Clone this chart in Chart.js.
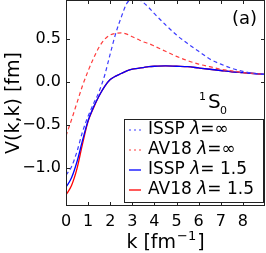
<!DOCTYPE html>
<html><head><meta charset="utf-8">
<script src="https://cdn.jsdelivr.net/npm/chart.js@4/dist/chart.umd.min.js"></script>
<style>html,body{margin:0;padding:0;background:#fff}#c{display:block}</style>
</head><body>
<canvas id="c" width="266" height="253"></canvas>
<script>
const kValues = [0,0.25,0.5,0.75,1,1.25,1.5,1.75,2,2.25,2.5,2.75,3,3.25,3.5,3.75,4,4.5,5,5.5,6,6.5,7,7.5,8,8.5,9];
const isspInf = [-1.09,-0.99,-0.81,-0.58,-0.40,-0.25,-0.11,0.08,0.33,0.57,0.76,0.92,0.975,0.97,0.93,0.87,0.80,0.67,0.55,0.45,0.36,0.27,0.21,0.16,0.125,0.10,0.09];
const av18Inf = [-0.63,-0.44,-0.24,-0.04,0.13,0.28,0.41,0.50,0.55,0.57,0.575,0.56,0.53,0.50,0.47,0.45,0.42,0.36,0.30,0.25,0.21,0.18,0.15,0.13,0.11,0.10,0.09];
const issp15 = [-1.23,-1.12,-0.93,-0.68,-0.45,-0.29,-0.16,-0.05,0.03,0.07,0.10,0.13,0.15,0.16,0.17,0.18,0.185,0.19,0.185,0.18,0.165,0.15,0.135,0.12,0.11,0.10,0.09];
const av1815 = [-1.32,-1.21,-1.01,-0.72,-0.46,-0.30,-0.16,-0.05,0.03,0.07,0.10,0.13,0.15,0.16,0.17,0.18,0.185,0.19,0.185,0.18,0.165,0.15,0.135,0.12,0.11,0.10,0.09];
const xTicks = [0,1,2,3,4,5,6,7,8];
const yTicks = [-1.0,-0.5,0.0,0.5];
const legendLabels = [["ISSP ","λ","=∞"],["AV18 ","λ","=∞"],["ISSP ","λ","= 1.5"],["AV18 ","λ","= 1.5"]];

const FONT = "'DejaVu Sans'";
const pts = arr => kValues.map((k,i)=>({x:k,y:arr[i]}));
const fmt = v => (v<0?'\u2212':'') + Math.abs(v).toFixed(1);

const datasets = [
  {data:pts(isspInf), borderColor:'rgb(60,60,255)', borderDash:[4,3], borderWidth:1.2},
  {data:pts(av18Inf), borderColor:'rgb(255,60,60)', borderDash:[4,3], borderWidth:1.2},
  {data:pts(issp15), borderColor:'rgb(0,0,255)', borderWidth:1.3},
  {data:pts(av1815), borderColor:'rgb(255,0,0)', borderWidth:1.3}
].map(d=>Object.assign({pointRadius:0, fill:false, cubicInterpolationMode:'monotone'}, d));

const deco = {
  id:'deco',
  afterDraw(chart){
    const ctx = chart.ctx, a = chart.chartArea, xs = chart.scales.x, ys = chart.scales.y;
    ctx.save();
    ctx.strokeStyle = '#222'; ctx.lineWidth = 1;
    ctx.strokeRect(Math.round(a.left)+0.5, Math.round(a.top)+0.5, Math.round(a.right-a.left)-1, Math.round(a.bottom-a.top)-1);
    ctx.beginPath();
    xTicks.forEach(v=>{const p=Math.round(xs.getPixelForValue(v))+0.5;
      ctx.moveTo(p,a.bottom); ctx.lineTo(p,a.bottom-4); ctx.moveTo(p,a.top); ctx.lineTo(p,a.top+4);});
    yTicks.forEach(v=>{const p=Math.round(ys.getPixelForValue(v))+0.5;
      ctx.moveTo(a.left,p); ctx.lineTo(a.left+4,p); ctx.moveTo(a.right,p); ctx.lineTo(a.right-4,p);});
    ctx.stroke();
    ctx.fillStyle = '#000'; ctx.textBaseline = 'alphabetic';
    const t1 = 'k [fm', t2 = '\u22121', t3 = ']';
    ctx.font = '19px ' + FONT; const w1 = ctx.measureText(t1).width, w3 = ctx.measureText(t3).width;
    ctx.font = '13px ' + FONT; const w2 = ctx.measureText(t2).width;
    const cx = (a.left+a.right)/2, tot = w1+w2+w3+2;
    let x0 = cx - tot/2; const by = 248;
    ctx.textAlign = 'left';
    ctx.font = '19px ' + FONT; ctx.fillText(t1, x0, by);
    ctx.font = '13px ' + FONT; ctx.fillText(t2, x0+w1+1, by-8);
    ctx.font = '19px ' + FONT; ctx.fillText(t3, x0+w1+w2+2, by);
    ctx.save();
    ctx.translate(19, (a.top+a.bottom)/2); ctx.rotate(-Math.PI/2);
    ctx.textAlign = 'center'; ctx.font = '19px ' + FONT;
    ctx.fillText('V(k,k) [fm]', 0, 0);
    ctx.restore();
    ctx.textAlign = 'left';
    ctx.font = '18px ' + FONT; ctx.fillText('(a)', 232, 24);
    ctx.font = '11px ' + FONT; ctx.fillText('1', 199, 100);
    ctx.font = '20px ' + FONT; ctx.fillText('S', 208, 108);
    ctx.font = '11px ' + FONT; ctx.fillText('0', 220, 114);
    const lx = 124.5, ly = 119.5, lw = 139, lh = 83;
    ctx.fillStyle = '#fff'; ctx.fillRect(lx, ly, lw, lh);
    ctx.strokeStyle = '#222'; ctx.lineWidth = 1; ctx.strokeRect(lx, ly, lw, lh);
    chart.data.datasets.forEach((ds,i)=>{
      const yy = 130 + i*20;
      ctx.strokeStyle = ds.borderColor; ctx.lineWidth = ds.borderWidth;
      ctx.setLineDash(ds.borderDash ? [2,3] : []);
      ctx.beginPath(); ctx.moveTo(129, yy); ctx.lineTo(141, yy); ctx.stroke();
      ctx.setLineDash([]);
      ctx.fillStyle = '#000'; ctx.textBaseline = 'middle';
      let x = 148; const parts = legendLabels[i];
      ctx.font = '17px ' + FONT; ctx.fillText(parts[0], x, yy); x += ctx.measureText(parts[0]).width;
      ctx.font = 'italic 17px ' + FONT; ctx.fillText(parts[1], x, yy); x += ctx.measureText(parts[1]).width;
      ctx.font = '17px ' + FONT; ctx.fillText(parts[2], x, yy);
    });
    ctx.restore();
  }
};

new Chart(document.getElementById('c'), {
  type:'line',
  data:{datasets},
  options:{
    responsive:false, animation:false, devicePixelRatio:1,
    layout:{padding:{top:0,right:1,left:0,bottom:0}},
    plugins:{legend:{display:false}, tooltip:{enabled:false}},
    scales:{
      x:{type:'linear', min:0, max:9,
        afterBuildTicks:s=>{s.ticks = xTicks.map(v=>({value:v}));},
        afterFit:s=>{s.height = 47; s.paddingLeft = 0; s.paddingRight = 0;},
        grid:{display:false, drawTicks:false}, border:{display:false},
        ticks:{padding:6, maxRotation:0, autoSkip:false, color:'#000', font:{family:'DejaVu Sans', size:16}, callback:v=>String(v)}},
      y:{type:'linear', min:-1.45, max:0.96,
        afterBuildTicks:s=>{s.ticks = yTicks.map(v=>({value:v}));},
        afterFit:s=>{s.width = 66; s.paddingTop = 0; s.paddingBottom = 0;},
        grid:{display:false, drawTicks:false}, border:{display:false},
        ticks:{padding:5, color:'#000', font:{family:'DejaVu Sans', size:16}, callback:v=>fmt(v)}}
    }
  },
  plugins:[deco]
});
</script>
</body></html>
